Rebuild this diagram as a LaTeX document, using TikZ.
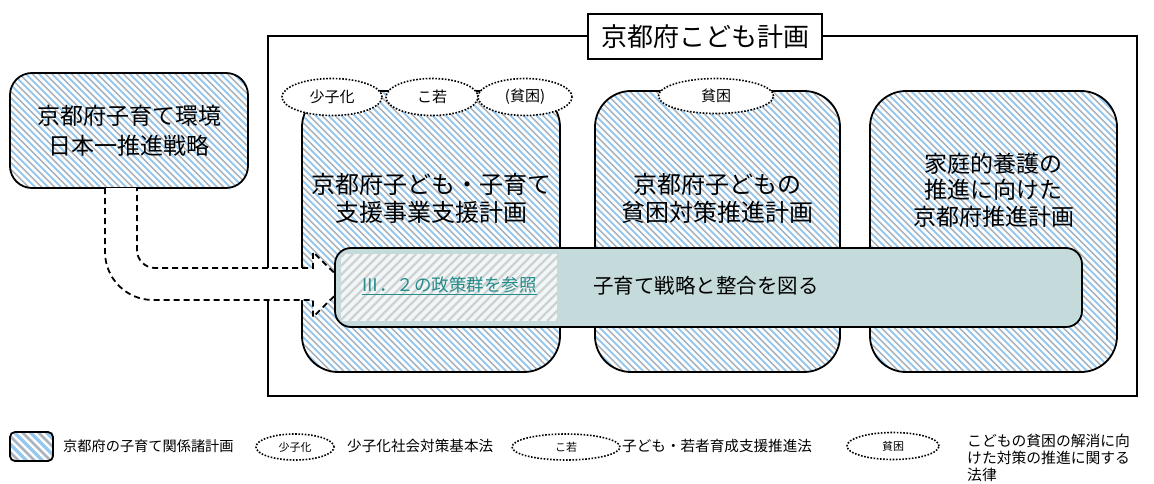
\documentclass[tikz,border=0pt]{standalone}
\usepackage{fontspec}
\setmainfont{Noto Sans CJK JP}
\usetikzlibrary{shapes.geometric,calc}
\definecolor{hblue}{RGB}{150,200,240}
\definecolor{hgray}{RGB}{170,180,190}
\definecolor{tealfill}{RGB}{197,219,219}
\definecolor{linkteal}{RGB}{38,140,140}
\definecolor{lgray}{RGB}{205,210,210}
\definecolor{insetbg}{RGB}{242,246,246}
\newcommand\fs[2]{\fontsize{#1pt}{#2pt}\selectfont}
\newcommand\hatchlines{%
  \foreach \s in {-440,-427,...,300}{%
    \draw[hblue,line width=1.8pt] ([xshift=\s pt]path picture bounding box.north west) -- ++(440pt,-440pt);}%
  \foreach \s in {-433.5,-420.5,...,306}{%
    \draw[hgray,line width=1.7pt] ([xshift=\s pt]path picture bounding box.north west) -- ++(440pt,-440pt);}}
\newcommand\hatchbig{%
  \foreach \s in {-60,-44,...,60}{%
    \draw[hblue,line width=3.2pt] ([xshift=\s pt]path picture bounding box.north west) -- ++(60pt,-60pt);}%
  \foreach \s in {-52,-36,...,68}{%
    \draw[hgray,line width=2.6pt] ([xshift=\s pt]path picture bounding box.north west) -- ++(60pt,-60pt);}}
\newcommand\hatchinset{%
  \foreach \s in {-100,-91,...,230}{%
    \draw[lgray,line width=2.2pt] ([xshift=\s pt]path picture bounding box.south west) -- ++(100pt,100pt);}}
\begin{document}
\begin{tikzpicture}[x=1pt,y=-1pt,
  plan/.style={draw=black,line width=1.8pt,fill=white,inner sep=0pt,path picture={\hatchlines}},
  law/.style={ellipse,draw=black,line width=1.6pt,dash pattern=on 1.6pt off 1.6pt,fill=white,inner sep=0pt},
  lbl/.style={inner sep=0pt,align=center,text=black},
  frame/.style={draw=black,line width=1.7pt,inner sep=0pt}]
\useasboundingbox[fill=white] (0,0) rectangle (1154,484);

% outer frame and title
\node[frame,minimum width=869pt,minimum height=360pt] (frame) at (702.5,216) {};
\node[frame,fill=white,minimum width=234pt,minimum height=45pt,font=\fs{26}{30}] (title) at (705,36.5) {京都府こども計画};

% left strategy box
\node[plan,rounded corners=22pt,minimum width=238pt,minimum height=115pt,align=center,font=\fs{23}{30}] (strategy) at (129,130.5) {京都府子育て環境\\日本一推進戦略};

% three plan boxes
\node[plan,rounded corners=36pt,minimum width=258pt,minimum height=281pt] (b1) at (431,231.5) {};
\node[plan,rounded corners=36pt,minimum width=245pt,minimum height=281pt] (b2) at (717.5,231.5) {};
\node[plan,rounded corners=36pt,minimum width=247pt,minimum height=281pt] (b3) at (993.5,231.5) {};
\node[lbl,font=\fs{24}{28}] (t1) at (431,198) {京都府子ども・子育て\\支援事業支援計画};
\node[lbl,font=\fs{24}{28}] (t2) at (717.5,198) {京都府子どもの\\貧困対策推進計画};
\node[lbl,font=\fs{23}{26.5}] (t3) at (993.5,190) {家庭的養護の\\推進に向けた\\京都府推進計画};

% law ellipses
\node[law,minimum width=100pt,minimum height=37pt,font=\fs{15}{18}] (e1) at (332,97) {少子化};
\node[law,minimum width=92pt,minimum height=37pt,font=\fs{15}{18}] (e2) at (432,97) {こ若};
\node[law,minimum width=94pt,minimum height=37pt,font=\fs{15}{18}] (e3) at (525,97) {(貧困)};
\node[law,minimum width=115pt,minimum height=35pt,font=\fs{15}{18}] (e4) at (716,96) {貧困};

% hollow dashed arrow from strategy to the bar
\coordinate (o1) at (105,188);
\coordinate (i1) at (137,188);
\coordinate (tip) at (346,284.5);
\fill[white] (o1) -- (105,252) .. controls (105,278.5) and (126.5,300) .. (153,300) -- (313,300) -- (313,317) -- (tip)
  -- (313,252) -- (313,268) -- (155,268) .. controls (145.1,268) and (137,259.9) .. (137,250) -- (i1) -- cycle;
\draw[line width=1.8pt,dash pattern=on 6pt off 4pt] (o1) -- (105,252) .. controls (105,278.5) and (126.5,300) .. (153,300) -- (313,300) -- (313,317) -- (tip)
  -- (313,252) -- (313,268) -- (155,268) .. controls (145.1,268) and (137,259.9) .. (137,250) -- (i1);

% teal bar
\node[draw=black,line width=1.8pt,fill=tealfill,rounded corners=16pt,minimum width=747pt,minimum height=79pt,inner sep=0pt] (bar) at (708.5,287.5) {};
\node[fill=insetbg,inner sep=0pt,minimum width=216pt,minimum height=67pt,path picture={\hatchinset}] (inset) at (449,287.5) {};
\node[lbl,text=linkteal,font=\fs{17.5}{20}] (link) at (449,286) {\underline{Ⅲ．２の政策群を参照}};
\node[lbl,anchor=west,font=\fs{20.5}{24}] (align) at (593,286) {子育て戦略と整合を図る};

% legend
\node[draw=black,line width=1.8pt,fill=white,rounded corners=5pt,minimum width=43pt,minimum height=29pt,inner sep=0pt,path picture={\hatchbig}] (lg1) at (31.5,446.5) {};
\node[lbl,anchor=west,font=\fs{14.2}{17}] (lt1) at (63,446) {京都府の子育て関係諸計画};
\node[law,minimum width=78pt,minimum height=26pt,font=\fs{11}{13}] (lg2) at (295,447) {少子化};
\node[lbl,anchor=west,font=\fs{14.6}{17}] (lt2) at (347,446) {少子化社会対策基本法};
\node[law,minimum width=108pt,minimum height=26pt,font=\fs{11}{13}] (lg3) at (566,447) {こ若};
\node[lbl,anchor=west,font=\fs{14.6}{17}] (lt3) at (622,446) {子ども・若者育成支援推進法};
\node[law,minimum width=92pt,minimum height=27pt,font=\fs{11}{13}] (lg4) at (893,446) {貧困};
\node[lbl,anchor=west,align=left,font=\fs{14.8}{17}] (lt4) at (967,458) {こどもの貧困の解消に向\\けた対策の推進に関する\\法律};
\end{tikzpicture}
\end{document}
